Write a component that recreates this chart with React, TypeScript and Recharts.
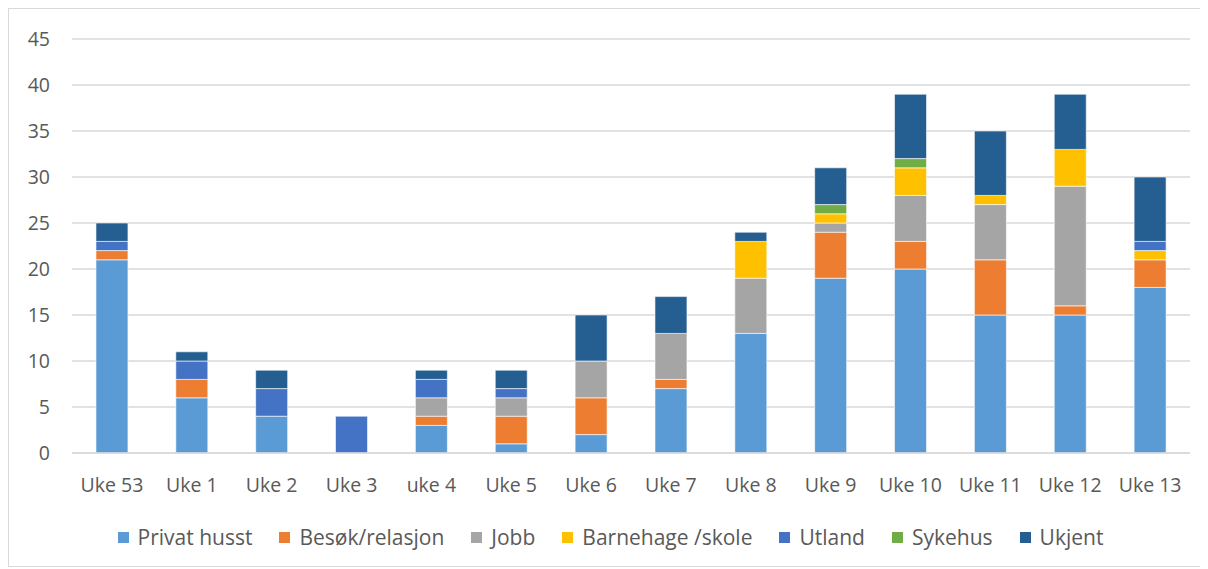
import { Bar, BarChart, CartesianGrid, Legend, XAxis, YAxis } from 'recharts'

const weeks = ['Uke 53', 'Uke 1', 'Uke 2', 'Uke 3', 'uke 4', 'Uke 5', 'Uke 6', 'Uke 7', 'Uke 8', 'Uke 9', 'Uke 10', 'Uke 11', 'Uke 12', 'Uke 13']

const privatHusst = [21, 6, 4, 0, 3, 1, 2, 7, 13, 19, 20, 15, 15, 18]
const besok = [1, 2, 0, 0, 1, 3, 4, 1, 0, 5, 3, 6, 1, 3]
const jobb = [0, 0, 0, 0, 2, 2, 4, 5, 6, 1, 5, 6, 13, 0]
const barnehage = [0, 0, 0, 0, 0, 0, 0, 0, 4, 1, 3, 1, 4, 1]
const utland = [1, 2, 3, 4, 2, 1, 0, 0, 0, 0, 0, 0, 0, 1]
const sykehus = [0, 0, 0, 0, 0, 0, 0, 0, 0, 1, 1, 0, 0, 0]
const ukjent = [2, 1, 2, 0, 1, 2, 5, 4, 1, 4, 7, 7, 6, 7]

const yTicks = [0, 5, 10, 15, 20, 25, 30, 35, 40, 45]

const series = [
  { key: 'privat', name: 'Privat husst', color: '#5B9BD5', values: privatHusst },
  { key: 'besok', name: 'Besøk/relasjon', color: '#ED7D31', values: besok },
  { key: 'jobb', name: 'Jobb', color: '#A5A5A5', values: jobb },
  { key: 'barnehage', name: 'Barnehage /skole', color: '#FFC000', values: barnehage },
  { key: 'utland', name: 'Utland', color: '#4472C4', values: utland },
  { key: 'sykehus', name: 'Sykehus', color: '#70AD47', values: sykehus },
  { key: 'ukjent', name: 'Ukjent', color: '#255E91', values: ukjent },
]

const data = weeks.map((week, i) => {
  const row: Record<string, string | number> = { week }
  series.forEach(s => {
    row[s.key] = s.values[i]
  })
  return row
})

const font = "'Open Sans', sans-serif"
const textColor = '#595959'

function ChartLegend() {
  return (
    <div style={{ display: 'flex', justifyContent: 'center', gap: 27, paddingLeft: 22, fontFamily: font, fontSize: 21, color: textColor }}>
      {series.map(s => (
        <div key={s.key} style={{ display: 'flex', alignItems: 'center' }}>
          <span style={{ width: 11, height: 11, background: s.color, marginRight: 9, display: 'inline-block' }} />
          <span>{s.name}</span>
        </div>
      ))}
    </div>
  )
}

export default function App() {
  return (
    <div style={{ width: 1195, height: 557, border: '1px solid #d9d9d9', background: '#fff' }}>
      <BarChart
        width={1195}
        height={557}
        data={data}
        margin={{ top: 30, right: 14, bottom: 0, left: 0 }}
        barCategoryGap='30%'
      >
        <CartesianGrid vertical={false} stroke='#d9d9d9' strokeWidth={1.5} />
        <XAxis
          dataKey='week'
          axisLine={{ stroke: '#d9d9d9', strokeWidth: 1.5 }}
          tickLine={false}
          tickMargin={19}
          height={50}
          interval={0}
          tick={{ fill: textColor, fontSize: 19.5, fontFamily: font }}
        />
        <YAxis
          domain={[0, 45]}
          ticks={yTicks}
          axisLine={false}
          tickLine={false}
          width={63}
          tickMargin={16}
          tick={{ fill: textColor, fontSize: 19.5, fontFamily: font }}
        />
        <Legend verticalAlign='bottom' height={63} wrapperStyle={{ bottom: 0 }} content={() => (
          <div style={{ paddingTop: 20 }}><ChartLegend /></div>
        )} />
        {series.map(s => (
          <Bar
            key={s.key}
            dataKey={s.key}
            name={s.name}
            stackId='a'
            fill={s.color}
            stroke='#ffffff'
            strokeWidth={0.6}
            isAnimationActive={false}
          />
        ))}
      </BarChart>
    </div>
  )
}
